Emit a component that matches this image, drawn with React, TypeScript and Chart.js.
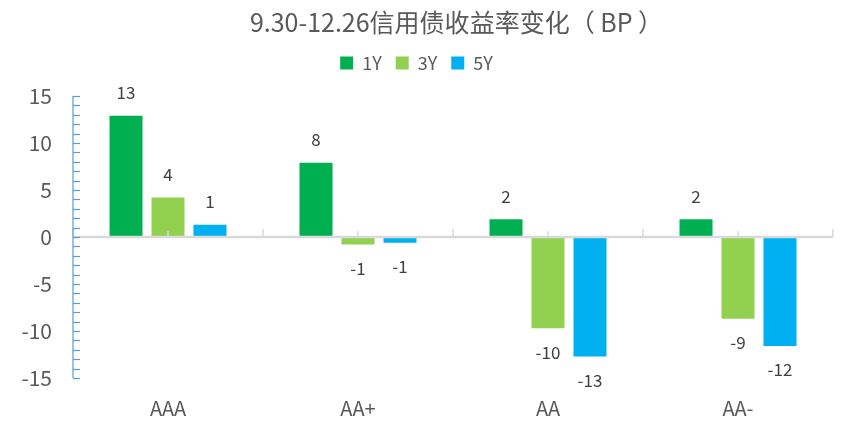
import { useEffect, useRef } from "react"
import { Chart, registerables } from "chart.js"

Chart.register(...registerables)

const categories = ["AAA", "AA+", "AA", "AA-"]
const series1Y = [12.9, 7.9, 1.9, 1.9]
const series3Y = [4.2, -0.8, -9.7, -8.7]
const series5Y = [1.3, -0.6, -12.7, -11.6]
const yTicks = [-15, -10, -5, 0, 5, 10, 15]

const FONT = "'Noto Sans CJK SC', 'Noto Sans', sans-serif"

// 图例下方留白, 标题右移
const layoutPlugin = {
  id: "layoutTweaks",
  beforeLayout(chart: any) {
    const legend = chart.legend
    if (legend && !legend._gapPatched) {
      const fit = legend.fit.bind(legend)
      legend.fit = () => {
        fit()
        legend.height += 14
      }
      legend._gapPatched = true
    }
  },
  afterLayout(chart: any) {
    if (chart.titleBlock) {
      chart.titleBlock.left += 80
    }
  },
}

// 轴线、刻度和数据标签
const axisPlugin = {
  id: "excelAxes",
  afterDatasetsDraw(chart: any) {
    const { ctx, chartArea, scales } = chart
    const y = scales.y
    const x = scales.x
    const zeroY = y.getPixelForValue(0)
    ctx.save()

    // 零线
    ctx.strokeStyle = "#d9d9d9"
    ctx.lineWidth = 2.5
    ctx.beginPath()
    ctx.moveTo(chartArea.left, zeroY)
    ctx.lineTo(chartArea.right, zeroY)
    ctx.stroke()

    // 分类刻度
    const w = (chartArea.right - chartArea.left) / categories.length
    ctx.lineWidth = 1.5
    for (let i = 0; i <= categories.length; i++) {
      const px = chartArea.left + i * w
      ctx.beginPath()
      ctx.moveTo(px, zeroY)
      ctx.lineTo(px, zeroY - 8)
      ctx.stroke()
    }
    categories.forEach((_, i) => {
      const px = x.getPixelForValue(i)
      ctx.beginPath()
      ctx.moveTo(px, zeroY)
      ctx.lineTo(px, zeroY - 6)
      ctx.stroke()
    })

    // Y轴
    ctx.strokeStyle = "#5b9bd5"
    ctx.lineWidth = 1.2
    ctx.beginPath()
    ctx.moveTo(chartArea.left, chartArea.top)
    ctx.lineTo(chartArea.left, chartArea.bottom)
    ctx.stroke()
    for (let v = y.min; v <= y.max; v++) {
      const py = Math.round(y.getPixelForValue(v)) + 0.5
      ctx.beginPath()
      ctx.moveTo(chartArea.left, py)
      ctx.lineTo(chartArea.left + 7, py)
      ctx.stroke()
    }

    // 数据标签
    ctx.fillStyle = "#404040"
    ctx.font = `17px ${FONT}`
    ctx.textAlign = "center"
    ctx.textBaseline = "middle"
    chart.data.datasets.forEach((ds: any, di: number) => {
      const meta = chart.getDatasetMeta(di)
      meta.data.forEach((el: any, i: number) => {
        const v = ds.data[i]
        const ly = v >= 0 ? el.y - 23 : el.y + 24
        ctx.fillText(String(Math.round(v)), el.x, ly)
      })
    })
    ctx.restore()
  },
}

export default function App() {
  const chartRef = useRef<HTMLCanvasElement>(null)
  const chartInstance = useRef<Chart | null>(null)

  useEffect(() => {
    if (!chartRef.current) return
    if (chartInstance.current) {
      chartInstance.current.destroy()
    }
    const ctx = chartRef.current.getContext("2d")
    if (!ctx) return

    const bar = { categoryPercentage: 0.663, barPercentage: 0.786 }

    chartInstance.current = new Chart(ctx, {
      type: "bar",
      data: {
        labels: categories,
        datasets: [
          { label: "1Y", data: series1Y, backgroundColor: "#00b050", ...bar },
          { label: "3Y", data: series3Y, backgroundColor: "#92d050", ...bar },
          { label: "5Y", data: series5Y, backgroundColor: "#00b0f0", ...bar },
        ],
      },
      options: {
        responsive: false,
        animation: false,
        layout: { padding: { top: 0, right: 25, left: 0, bottom: 0 } },
        scales: {
          x: {
            grid: { display: false, drawTicks: false },
            border: { display: false },
            ticks: {
              color: "#595959",
              font: { size: 20, family: FONT },
              padding: 18,
              maxRotation: 0,
            },
            afterFit: (scale: any) => {
              scale.height = 45
            },
          },
          y: {
            min: -15,
            max: 15,
            afterBuildTicks: (scale: any) => {
              scale.ticks = yTicks.map((v) => ({ value: v }))
            },
            grid: { display: false, drawTicks: false },
            border: { display: false },
            ticks: {
              color: "#595959",
              font: { size: 21, family: FONT },
              padding: 21,
            },
            afterFit: (scale: any) => {
              scale.width = 73
            },
          },
        },
        plugins: {
          tooltip: { enabled: false },
          title: {
            display: true,
            text: "9.30-12.26信用债收益率变化（ BP ）",
            color: "#595959",
            font: { size: 25, family: FONT, weight: "normal" },
            padding: { top: 7, bottom: 3 },
          },
          legend: {
            position: "top",
            labels: {
              boxWidth: 13,
              boxHeight: 13,
              padding: 14,
              color: "#595959",
              font: { size: 18, family: FONT },
            },
          },
        },
      },
      plugins: [layoutPlugin, axisPlugin],
    })

    return () => {
      if (chartInstance.current) {
        chartInstance.current.destroy()
        chartInstance.current = null
      }
    }
  }, [])

  return (
    <div style={{ position: "absolute", left: 0, top: 0, width: 858, height: 423, background: "#fff" }}>
      <canvas ref={chartRef} width={858} height={423} style={{ display: "block" }} />
    </div>
  )
}
